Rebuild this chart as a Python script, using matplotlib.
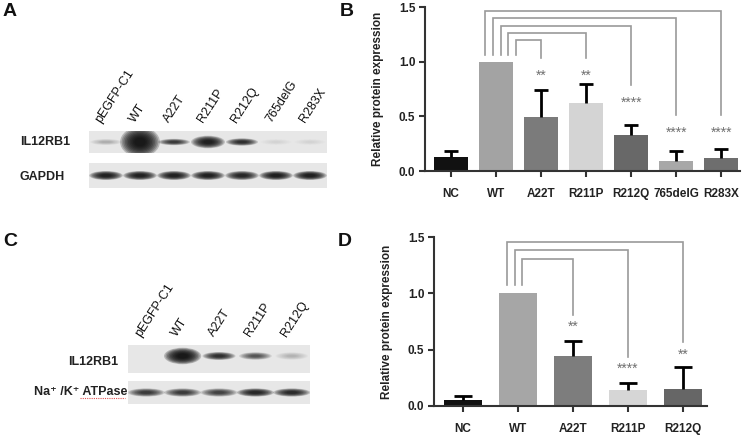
import matplotlib
matplotlib.use('Agg')
import matplotlib.pyplot as plt
from matplotlib.patches import Ellipse, Rectangle
from matplotlib.lines import Line2D
from matplotlib.transforms import offset_copy

plt.rcParams['font.family'] = ['Liberation Sans', 'DejaVu Sans']

W, H = 750, 438

# ---------------- data ----------------
# Panel B (quantification of A)
b_categories = ['NC', 'WT', 'A22T', 'R211P', 'R212Q', '765delG', 'R283X']
b_means = [0.13, 1.00, 0.49, 0.62, 0.33, 0.09, 0.12]
b_err = [0.05, 0.00, 0.25, 0.18, 0.09, 0.09, 0.08]
b_stars = ['', '', '**', '**', '****', '****', '****']
b_star_y = [None, None, 0.89, 0.89, 0.65, 0.37, 0.37]
b_colors = ['#111111', '#a3a3a3', '#7b7b7b', '#d4d4d4', '#686868', '#a8a8a8', '#6e6e6e']
b_bracket_targets = ['A22T', 'R211P', 'R212Q', '765delG', 'R283X']

# Panel D (quantification of C)
d_categories = ['NC', 'WT', 'A22T', 'R211P', 'R212Q']
d_means = [0.05, 1.00, 0.44, 0.145, 0.155]
d_err = [0.035, 0.00, 0.14, 0.055, 0.195]
d_stars = ['', '', '**', '****', '**']
d_star_y = [None, None, 0.72, 0.35, 0.48]
d_colors = ['#111111', '#a6a6a6', '#7d7d7d', '#d6d6d6', '#666666']
d_bracket_targets = ['A22T', 'R211P', 'R212Q']

# Blot A
a_lanes = ['pEGFP-C1', 'WT', 'A22T', 'R211P', 'R212Q', '765delG', 'R283X']
a_il12 = [0.12, 1.00, 0.60, 0.85, 0.70, 0.04, 0.03]
a_gapdh = [0.85, 0.85, 0.85, 0.85, 0.78, 0.88, 0.88]

# Blot C
c_lanes = ['pEGFP-C1', 'WT', 'A22T', 'R211P', 'R212Q']
c_il12 = [0.00, 1.00, 0.70, 0.45, 0.10]
c_atpase = [0.60, 0.60, 0.55, 0.80, 0.75]

fig = plt.figure(figsize=(7.5, 4.38), dpi=100)
fig.patch.set_facecolor('white')


def px_axes(x0, y0, x1, y1):
    return fig.add_axes([x0 / W, 1 - y1 / H, (x1 - x0) / W, (y1 - y0) / H])


def ftext(x, y, s, **kw):
    return fig.text(x / W, 1 - y / H, s, **kw)


# ---------------- bar panels ----------------
def bar_panel(box, cats, means, errs, colors, stars, star_y, targets,
              xlim, width, br_start, br_step, br_top, br_tstep, br_left_bottom,
              end_gap, ylabel_x):
    ax = px_axes(*box)
    x = list(range(len(cats)))
    ax.bar(x, means, width=width, color=colors, edgecolor='none', zorder=2)
    # one-sided (upper) error bars
    cap = 0.16
    for xi, m, e in zip(x, means, errs):
        if e > 0:
            ax.vlines(xi, m, m + e, color='black', lw=2.0, zorder=3)
            ax.hlines(m + e, xi - cap, xi + cap, color='black', lw=2.0, zorder=3)
    ax.set_xlim(*xlim)
    ax.set_ylim(0, 1.5)
    ax.set_yticks([0, 0.5, 1.0, 1.5])
    ax.set_yticklabels(['0.0', '0.5', '1.0', '1.5'])
    ax.set_xticks(x)
    ax.set_xticklabels(cats)
    for s in ['top', 'right']:
        ax.spines[s].set_visible(False)
    for s in ['left', 'bottom']:
        ax.spines[s].set_color('#333333')
        ax.spines[s].set_linewidth(1.5)
    ax.tick_params(axis='both', direction='out', length=4, width=1.5,
                   color='#333333', labelsize=8.5, labelcolor='#222222', pad=3)
    ax.tick_params(axis='x', pad=8)
    for lab in ax.get_xticklabels() + ax.get_yticklabels():
        lab.set_fontweight('bold')
    ax.set_ylabel('Relative protein expression', fontsize=8.5, fontweight='bold',
                  color='#222222')
    ax.yaxis.set_label_coords(ylabel_x, 0.5)

    # significance brackets from WT
    wt = cats.index('WT')
    for k, t in enumerate(targets):
        ti = cats.index(t)
        xs = wt + br_start - br_step * k
        top = br_top + br_tstep * k
        yb = star_y[ti] + end_gap
        ax.plot([xs, xs, ti, ti], [br_left_bottom, top, top, yb],
                color='#9a9a9a', lw=1.2, solid_joinstyle='miter', clip_on=False, zorder=1)
    tr = offset_copy(ax.transData, fig=fig, y=-4.6, units='points')
    for i, s in enumerate(stars):
        if s:
            ax.text(i, star_y[i], s, ha='center', va='baseline', fontsize=10,
                    color='#707070', transform=tr)
    return ax


bar_panel((425, 7, 740, 171), b_categories, b_means, b_err, b_colors, b_stars,
          b_star_y, b_bracket_targets, xlim=(-0.58, 6.42), width=0.74,
          br_start=0.44, br_step=0.17, br_top=1.195, br_tstep=0.067,
          br_left_bottom=1.06, end_gap=0.14, ylabel_x=-0.13)

bar_panel((434, 237, 707, 406), d_categories, d_means, d_err, d_colors, d_stars,
          d_star_y, d_bracket_targets, xlim=(-0.53, 4.44), width=0.70,
          br_start=0.08, br_step=0.14, br_top=1.308, br_tstep=0.074,
          br_left_bottom=1.07, end_gap=0.085, ylabel_x=-0.15)


# ---------------- blot panels ----------------
def draw_band(ax, xc, yc, w, h, inten, clip):
    scales = [1.5, 1.38, 1.26, 1.14, 1.02, 0.9, 0.78, 0.66, 0.54, 0.42]
    for s in scales:
        e = Ellipse((xc, yc), w * s, h * s, facecolor='#080808', edgecolor='none',
                    alpha=min(1.0, 0.22 * inten), zorder=3, antialiased=True)
        ax.add_patch(e)
        e.set_clip_path(clip)


def blot_panel(box, lanes, top_vals, bot_vals, top_rows, bot_rows,
               top_shape, bot_shape, label_gap):
    ax = px_axes(*box)
    n = len(lanes)
    total = box[3] - box[1]
    ax.set_xlim(-0.5, n - 0.5)
    ax.set_ylim(total, 0)
    ax.axis('off')
    rects = []
    for (y0, y1) in (top_rows, bot_rows):
        r = Rectangle((-0.5, y0), n, y1 - y0, facecolor='#e7e7e7', edgecolor='none', zorder=1)
        ax.add_patch(r)
        rects.append(r)
    for i, v in enumerate(top_vals):
        yc, hmin, hmax, wmin, wmax = top_shape
        h = hmin + (hmax - hmin) * v ** 8
        w = wmin + (wmax - wmin) * v ** 8
        draw_band(ax, i, yc, w, h, v, rects[0])
    for i, v in enumerate(bot_vals):
        yc, h, w = bot_shape
        draw_band(ax, i, yc, w, h, v, rects[1])
    for i, lab in enumerate(lanes):
        ax.text(i - 0.15, -label_gap, lab, rotation=57, rotation_mode='anchor',
                ha='left', va='baseline', fontsize=9, color='#111111', clip_on=False)
    return ax


# Blot A: strips at y 131-153 and 163-188 (pixels), x 89-327
blot_panel((89, 131, 327, 188), a_lanes, a_il12, a_gapdh, (0, 22), (32, 57),
           top_shape=(11, 4.0, 20.0, 0.62, 0.78), bot_shape=(44.5, 6.0, 0.66),
           label_gap=8)

# Blot C: strips at y 345-373 and 381-404, x 128-310
blot_panel((128, 345, 310, 404), c_lanes, c_il12, c_atpase, (0, 28), (36, 59),
           top_shape=(11, 5.0, 11.0, 0.6, 0.68), bot_shape=(47.5, 5.5, 0.68),
           label_gap=8)

# row labels
ftext(20, 142, 'IL12RB1', fontsize=9, fontweight='bold', color='#222222', va='center')
ftext(20, 177, 'GAPDH', fontsize=9, fontweight='bold', color='#222222', va='center')
ftext(118, 362, 'IL12RB1', fontsize=9, fontweight='bold', color='#222222', va='center', ha='right')
ftext(127, 392, 'Na\u207a /K\u207a ATPase', fontsize=9, fontweight='bold', color='#222222',
      va='center', ha='right')
# spell-check style red dotted underline under "ATPase"
fig.add_artist(Line2D([80 / W, 125 / W], [1 - 398 / H, 1 - 398 / H], color='#e05050',
                      lw=0.8, ls=(0, (1, 1))))

# panel letters
for s, x, y in [('A', 3, 11), ('B', 340, 11), ('C', 3, 242), ('D', 338, 242)]:
    ftext(x, y, s, fontsize=14, fontweight='bold', color='#111111', va='center', ha='left')

fig.savefig('out.png', dpi=100, facecolor='white')
